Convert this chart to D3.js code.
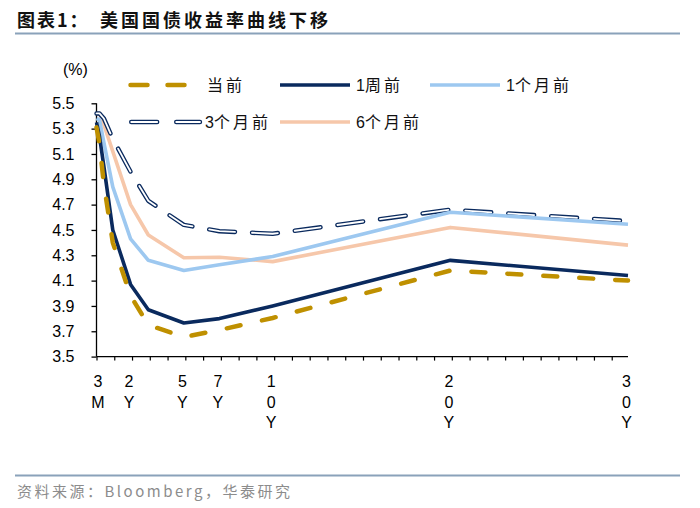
<!DOCTYPE html>
<html><head><meta charset="utf-8">
<script src="https://cdn.jsdelivr.net/npm/d3@7"></script>
<style>body{margin:0;background:#fff}svg{display:block}</style>
</head><body>
<script>
// ---- data ----
const maturities = [1/12, 0.25, 0.5, 1, 2, 3, 5, 7, 10, 20, 30];
const seriesNames = ["当前", "1周前", "1个月前", "3个月前", "6个月前"];
const current   = [5.31, 5.18, 4.86, 4.40, 3.98, 3.75, 3.655, 3.71, 3.805, 4.18, 4.10];
const week1     = [5.35, 5.24, 5.00, 4.50, 4.07, 3.87, 3.765, 3.80, 3.90, 4.26, 4.14];
const month1    = [5.38, 5.37, 5.19, 4.84, 4.43, 4.26, 4.18, 4.225, 4.29, 4.64, 4.545];
const month3    = [5.42, 5.42, 5.38, 5.22, 4.96, 4.73, 4.54, 4.49, 4.47, 4.66, 4.57];
const month6    = [5.41, 5.42, 5.33, 5.12, 4.70, 4.46, 4.28, 4.285, 4.25, 4.52, 4.38];
const yTicks = [3.5, 3.7, 3.9, 4.1, 4.3, 4.5, 4.7, 4.9, 5.1, 5.3, 5.5];
const xLabelValues = [0.25, 2, 5, 7, 10, 20, 30];
const xLabels = ["3M", "2Y", "5Y", "7Y", "10Y", "20Y", "30Y"];

const W = 700, H = 508;
const svg = d3.select("body").append("svg").attr("width", W).attr("height", H);
const latin = "'Liberation Sans', Arial, sans-serif";
const cjk = "'Noto Sans CJK SC', 'Noto Sans', sans-serif";

// title
const title = svg.append("text").attr("x", 17).attr("y", 27).attr("font-family", cjk)
  .attr("font-weight", "bold").attr("font-size", 18).attr("fill", "#111");
title.append("tspan").attr("letter-spacing", 2).text("图表1：");
title.append("tspan").attr("x", 100).attr("letter-spacing", 3).text("美国国债收益率曲线下移");
svg.append("line").attr("x1", 15).attr("x2", 680).attr("y1", 33.5).attr("y2", 33.5)
  .attr("stroke", "#8aa2ba").attr("stroke-width", 2);
svg.append("line").attr("x1", 15).attr("x2", 680).attr("y1", 475.5).attr("y2", 475.5)
  .attr("stroke", "#8aa2ba").attr("stroke-width", 2);
svg.append("text").attr("x", 17).attr("y", 497).attr("font-family", cjk)
  .attr("font-size", 15).attr("letter-spacing", 2.5).attr("fill", "#8c8c8c")
  .text("资料来源：Bloomberg，华泰研究");

// scales
const x = d3.scaleLinear().domain([1/12, 30]).range([96.5, 628]);
const y = d3.scaleLinear().domain([3.5, 5.5]).range([356.6, 103.3]);

// y axis
const yAxis = d3.axisLeft(y).tickValues(yTicks).tickFormat(d3.format(".1f")).tickSize(5).tickPadding(17);
const gy = svg.append("g").attr("transform", "translate(96.5,0)").call(yAxis);
gy.select(".domain").attr("stroke", "#000").attr("stroke-width", 1.3).attr("d", "M0,103.3V356.6");
gy.selectAll(".tick line").attr("stroke", "#000").attr("stroke-width", 1.3).attr("x2", -5);
gy.selectAll(".tick text").attr("font-family", latin).attr("font-size", 16).attr("fill", "#000");
svg.append("text").attr("x", 63).attr("y", 75).attr("font-family", latin).attr("font-size", 16).text("(%)");

// x axis with yearly ticks
const xTickVals = d3.range(0, 30).map(k => 1/12 + k);
const xAxis = d3.axisBottom(x).tickValues(xTickVals).tickSize(4).tickFormat("");
const gx = svg.append("g").attr("transform", "translate(0,356.6)").call(xAxis);
gx.select(".domain").attr("stroke", "#000").attr("stroke-width", 1.3).attr("d", "M96.5,0H628");
gx.selectAll(".tick line").attr("stroke", "#000").attr("stroke-width", 1.2);
// stacked labels
const lab = svg.append("g").attr("font-family", latin).attr("font-size", 16).attr("text-anchor", "middle");
xLabelValues.forEach((v, i) => {
  const t = lab.append("text").attr("x", x(v) - 1.5);
  xLabels[i].split("").forEach((ch, j) => {
    t.append("tspan").attr("x", x(v) - 1.5).attr("y", 387 + j * 20.5).text(ch);
  });
});

// lines
const line = d3.line().x((d, i) => x(maturities[i])).y(d => y(d));
const plot = svg.append("g").attr("fill", "none").attr("stroke-linejoin", "round");

function drawSeries(g, data, kind) {
  if (kind === "gold") {
    g.append("path").attr("d", line(data)).attr("stroke", "#bf9000").attr("stroke-width", 4.5)
      .attr("stroke-dasharray", "14,22").attr("stroke-linecap", "round");
  } else if (kind === "navy") {
    g.append("path").attr("d", line(data)).attr("stroke", "#0a2a5e").attr("stroke-width", 3.6);
  } else if (kind === "blue") {
    g.append("path").attr("d", line(data)).attr("stroke", "#9dc8f0").attr("stroke-width", 3.6);
  } else if (kind === "orange") {
    g.append("path").attr("d", line(data)).attr("stroke", "#f6c7aa").attr("stroke-width", 3.6);
  } else if (kind === "double") {
    g.append("path").attr("d", line(data)).attr("stroke", "#0a2a5e").attr("stroke-width", 4.4)
      .attr("stroke-dasharray", "26,17").attr("stroke-linecap", "round");
    g.append("path").attr("d", line(data)).attr("stroke", "#fff").attr("stroke-width", 1.8)
      .attr("stroke-dasharray", "26,17").attr("stroke-linecap", "round");
  }
}
drawSeries(plot, month6, "orange");
drawSeries(plot, month3, "double");
drawSeries(plot, month1, "blue");
drawSeries(plot, week1, "navy");
drawSeries(plot, current, "gold");

// legend
const leg = svg.append("g").attr("fill", "none").attr("stroke-linejoin", "round");
function legLine(x1, x2, yy) { return `M${x1},${yy}H${x2}`; }
const legendItems = [
  {name: seriesNames[0], kind: "gold", x1: 128, x2: 187, ty: 85, tx: 207},
  {name: seriesNames[1], kind: "navy", x1: 280, x2: 350, ty: 85, tx: 356},
  {name: seriesNames[2], kind: "blue", x1: 430, x2: 500, ty: 85, tx: 506},
  {name: seriesNames[3], kind: "double", x1: 129, x2: 200, ty: 122, tx: 205},
  {name: seriesNames[4], kind: "orange", x1: 280, x2: 350, ty: 122, tx: 356}
];
legendItems.forEach(it => {
  const d = legLine(it.x1, it.x2, it.ty);
  if (it.kind === "gold") {
    leg.append("path").attr("d", legLine(it.x1 + 2.5, it.x2, it.ty)).attr("stroke", "#bf9000").attr("stroke-width", 4.5)
      .attr("stroke-dasharray", "17,20").attr("stroke-linecap", "round");
  } else if (it.kind === "double") {
    leg.append("path").attr("d", legLine(it.x1 + 2.2, it.x2, it.ty)).attr("stroke", "#0a2a5e").attr("stroke-width", 4.4)
      .attr("stroke-dasharray", "26,19").attr("stroke-linecap", "round");
    leg.append("path").attr("d", legLine(it.x1 + 2.2, it.x2, it.ty)).attr("stroke", "#fff").attr("stroke-width", 1.8)
      .attr("stroke-dasharray", "26,19").attr("stroke-linecap", "round");
  } else {
    const c = it.kind === "navy" ? "#0a2a5e" : it.kind === "blue" ? "#9dc8f0" : "#f6c7aa";
    leg.append("path").attr("d", d).attr("stroke", c).attr("stroke-width", 3.6);
  }
  const t = svg.append("text").attr("x", it.tx).attr("y", it.ty + 6).attr("font-size", 16)
    .attr("fill", "#111");
  const m = it.name.match(/^(\d*)(.*)$/);
  if (m[1]) t.append("tspan").attr("font-family", latin).text(m[1]);
  t.append("tspan").attr("font-family", cjk).attr("letter-spacing", 3).text(m[2]);
});
</script>
</body></html>
